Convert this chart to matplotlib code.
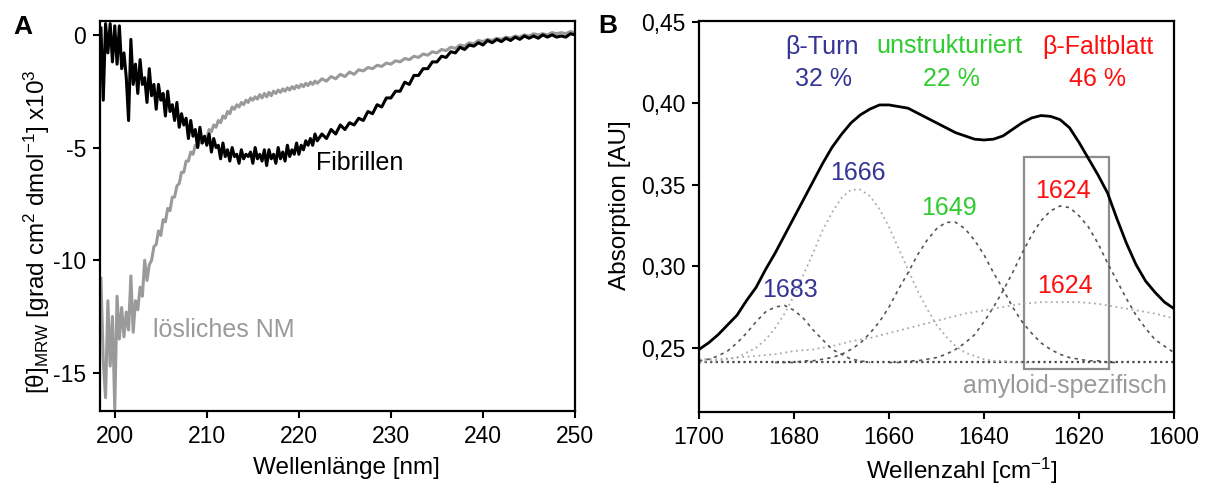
import matplotlib
matplotlib.use("Agg")
import matplotlib.pyplot as plt
import numpy as np

plt.rcParams['font.family'] = ['Liberation Sans', 'DejaVu Sans']
plt.rcParams['mathtext.fontset'] = 'custom'
plt.rcParams['mathtext.rm'] = 'Liberation Sans'
plt.rcParams['mathtext.it'] = 'Liberation Sans'

# ---- panel A: CD spectra ----
# part 1: 198.5 - 221.75 nm, every 0.25 nm
wl_a_start, wl_a_step = 198.5, 0.25
# part 2: 222 - 250 nm, every 0.5 nm
wl_b_start, wl_b_step = 222.0, 0.5

fib_a = [0.3, -2.9, 0.5, -0.8, 0.5, -1.2, 0.4, -1.3,
         0.4, -1.5, -0.8, -1.9, -3.8, -0.2, -2.2, -1.3,
         -2.6, -1.1, -2.2, -1.9, -3.0, -1.5, -2.7, -2.2,
         -3.3, -2.2, -2.9, -2.6, -3.6, -2.5, -3.4, -3.1,
         -3.8, -3.0, -4.1, -3.5, -4.0, -3.7, -4.6, -3.8,
         -4.5, -4.2, -5.0, -4.1, -4.8, -4.5, -4.9, -4.4,
         -5.2, -4.6, -5.0, -4.9, -5.5, -4.8, -5.4, -5.1,
         -5.6, -5.0, -5.4, -5.3, -5.7, -5.1, -5.5, -5.3,
         -5.4, -5.2, -5.7, -5.0, -5.5, -5.3, -5.6, -5.1,
         -5.8, -5.1, -5.5, -5.3, -5.7, -5.0, -5.5, -5.2,
         -5.6, -4.9, -5.4, -5.1, -5.3, -4.8, -5.3, -4.9,
         -5.1, -4.7, -4.9, -4.6, -4.9, -4.4]
fib_b = [-4.7, -4.4, -4.6, -4.2, -4.4, -4.0, -4.2, -3.9,
         -4.0, -3.7, -3.8, -3.4, -3.5, -3.1, -3.2, -2.8,
         -2.8, -2.5, -2.5, -2.1, -2.2, -1.8, -1.8, -1.5,
         -1.5, -1.2, -1.2, -0.95, -1.0, -0.75, -0.8, -0.55,
         -0.65, -0.45, -0.5, -0.35, -0.45, -0.25, -0.35, -0.2,
         -0.3, -0.15, -0.25, -0.1, -0.2, -0.05, -0.15, -0.05,
         -0.15, 0.0, -0.1, 0.0, -0.1, -0.05, -0.1, 0.05,
         0.0]

sol_a = [-10.8, -14.5, -16.1, -11.8, -14.7, -12.5, -16.6, -11.6,
         -13.5, -12.1, -13.4, -12.3, -13.1, -10.7, -13.2, -11.8,
         -12.2, -11.2, -11.6, -10.0, -10.9, -10.2, -10.0, -9.4,
         -9.3, -8.7, -8.9, -8.2, -8.3, -7.7, -7.8, -7.2,
         -7.2, -6.7, -6.6, -6.1, -6.1, -5.6, -5.6, -5.2,
         -5.3, -4.9, -5.0, -4.7, -4.8, -4.5, -4.6, -4.2,
         -4.3, -4.0, -4.1, -3.8, -3.9, -3.6, -3.7, -3.4,
         -3.5, -3.2, -3.3, -3.1, -3.2, -3.0, -3.1, -2.9,
         -3.0, -2.8, -2.9, -2.75, -2.85, -2.65, -2.8, -2.6,
         -2.75, -2.55, -2.7, -2.5, -2.6, -2.45, -2.55, -2.4,
         -2.5, -2.35, -2.45, -2.3, -2.4, -2.25, -2.35, -2.2,
         -2.3, -2.15, -2.25, -2.1, -2.2, -2.05]
sol_b = [-2.15, -1.95, -2.05, -1.85, -1.95, -1.75, -1.85, -1.65,
         -1.75, -1.55, -1.6, -1.45, -1.5, -1.35, -1.4, -1.25,
         -1.3, -1.15, -1.2, -1.05, -1.1, -0.95, -1.0, -0.85,
         -0.9, -0.75, -0.8, -0.65, -0.7, -0.55, -0.6, -0.45,
         -0.5, -0.35, -0.4, -0.25, -0.3, -0.2, -0.25, -0.15,
         -0.2, -0.1, -0.15, -0.05, -0.1, 0.0, -0.05, 0.05,
         0.0, 0.05, 0.0, 0.1, 0.05, 0.1, 0.05, 0.15,
         0.1]

# ---- panel B: FTIR amide I with fitted bands ----
total_start, total_step = 1700, -2
total_abs = [0.249, 0.253, 0.258, 0.264, 0.270, 0.279, 0.287, 0.298, 0.308, 0.319,
             0.330, 0.341, 0.352, 0.363, 0.373, 0.381, 0.388, 0.393, 0.3965, 0.399,
             0.399, 0.398, 0.397, 0.394, 0.391, 0.388, 0.385, 0.382, 0.380, 0.378,
             0.3775, 0.378, 0.380, 0.384, 0.388, 0.391, 0.3925, 0.392, 0.390, 0.385,
             0.376, 0.366, 0.356, 0.345, 0.329, 0.314, 0.301, 0.291, 0.284, 0.278,
             0.274]

band1683_start, band1683_step = 1700, -2
band1683 = [0.242, 0.243, 0.245, 0.248, 0.253, 0.259, 0.266, 0.272, 0.275, 0.276,
            0.273, 0.268, 0.261, 0.255, 0.249, 0.246, 0.243, 0.242, 0.241]
band1666_start, band1666_step = 1700, -2
band1666 = [0.241, 0.242, 0.242, 0.243, 0.244, 0.247, 0.250, 0.255, 0.262, 0.271,
            0.282, 0.295, 0.308, 0.322, 0.333, 0.342, 0.347, 0.347, 0.343, 0.335,
            0.324, 0.311, 0.298, 0.285, 0.274, 0.264, 0.257, 0.251, 0.247, 0.245,
            0.243, 0.242, 0.242, 0.241, 0.241, 0.241]
band1649_start, band1649_step = 1684, -2
band1649 = [0.241, 0.241, 0.241, 0.242, 0.242, 0.243, 0.244, 0.246, 0.249, 0.253,
            0.259, 0.266, 0.275, 0.286, 0.296, 0.307, 0.316, 0.323, 0.327, 0.327,
            0.323, 0.316, 0.307, 0.296, 0.286, 0.275, 0.266, 0.259, 0.253, 0.249,
            0.246, 0.244, 0.243, 0.242, 0.242, 0.241, 0.241]
band1624_start, band1624_step = 1660, -2
band1624 = [0.241, 0.241, 0.242, 0.242, 0.243, 0.244, 0.246, 0.249, 0.253, 0.258,
            0.266, 0.275, 0.285, 0.296, 0.308, 0.319, 0.328, 0.334, 0.337, 0.336,
            0.331, 0.324, 0.314, 0.302, 0.291, 0.280, 0.270, 0.262, 0.255, 0.251,
            0.247]
broad1624_start, broad1624_step = 1700, -4
broad1624 = [0.243, 0.243, 0.244, 0.245, 0.246, 0.248, 0.249, 0.251, 0.254, 0.256,
             0.259, 0.262, 0.265, 0.268, 0.271, 0.273, 0.275, 0.277, 0.278, 0.278,
             0.278, 0.277, 0.275, 0.273, 0.271, 0.268]
baseline_abs = 0.241

yticks_b = [0.25, 0.30, 0.35, 0.40, 0.45]
yticklabels_b = ['0,25', '0,30', '0,35', '0,40', '0,45']
xticks_b = [1700, 1680, 1660, 1640, 1620, 1600]
xticks_a = [200, 210, 220, 230, 240, 250]
yticks_a = [0, -5, -10, -15]
yticklabels_a = ['0', '-5', '-10', '-15']

blue = '#353596'
green = '#2ecc2e'
red = '#ff1010'


def grid(start, step, vals):
    return start + step * np.arange(len(vals))


fig = plt.figure(figsize=(12.17, 4.92), dpi=100)
axA = fig.add_axes([0.0822, 0.1652, 0.3903, 0.7928])
axB = fig.add_axes([0.5744, 0.1626, 0.3903, 0.7947])

for ax in (axA, axB):
    for s in ax.spines.values():
        s.set_linewidth(1.6)
    ax.tick_params(direction='out', length=5, width=1.5, labelsize=16.5, pad=5)

# A
wl_fib = np.concatenate([grid(wl_a_start, wl_a_step, fib_a), grid(wl_b_start, wl_b_step, fib_b)])
wl_sol = np.concatenate([grid(wl_a_start, wl_a_step, sol_a), grid(wl_b_start, wl_b_step, sol_b)])
axA.plot(wl_sol, sol_a + sol_b, color='#9a9a9a', lw=2.2)
axA.plot(wl_fib, fib_a + fib_b, color='black', lw=2.2)
axA.set_xlim(198.4, 250)
axA.set_ylim(-16.68, 0.63)
axA.set_xticks(xticks_a)
axA.set_yticks(yticks_a)
axA.set_yticklabels(yticklabels_a)
axA.text(221.9, -6.0, 'Fibrillen', fontsize=18, color='black')
axA.text(204.1, -13.42, 'lösliches NM', fontsize=18, color='#9a9a9a')

# B
axB.plot([1700, 1600], [baseline_abs, baseline_abs], color='#444444', lw=1.6, ls=(0, (1, 1.5)))
axB.plot(grid(broad1624_start, broad1624_step, broad1624), broad1624, color='#aaaaaa', lw=1.3, ls=(0, (1, 2)))
axB.plot(grid(band1666_start, band1666_step, band1666), band1666, color='#aaaaaa', lw=1.3, ls=(0, (1, 2)))
axB.plot(grid(band1683_start, band1683_step, band1683), band1683, color='#555555', lw=1.2, ls=(0, (2, 2.5)))
axB.plot(grid(band1649_start, band1649_step, band1649), band1649, color='#555555', lw=1.2, ls=(0, (2, 2.5)))
axB.plot(grid(band1624_start, band1624_step, band1624), band1624, color='#555555', lw=1.2, ls=(0, (2, 2.5)))
axB.plot(grid(total_start, total_step, total_abs), total_abs, color='black', lw=2.0)
axB.add_patch(plt.Rectangle((1613.7, 0.2369), 17.8, 0.130, fill=False, edgecolor='#8c8c8c', lw=1.6))
axB.set_xlim(1700, 1600)
axB.set_ylim(0.2106, 0.4505)
axB.set_xticks(xticks_b)
axB.set_yticks(yticks_b)
axB.set_yticklabels(yticklabels_b)

kw = dict(fontsize=18, ha='center', va='baseline')
axB.text(1674.2, 0.430, 'β-Turn', color=blue, **kw)
axB.text(1673.8, 0.4105, '32 %', color=blue, **kw)
axB.text(1647.3, 0.431, 'unstrukturiert', color=green, **kw)
axB.text(1646.8, 0.4105, '22 %', color=green, **kw)
axB.text(1616.0, 0.430, 'β-Faltblatt', color=red, **kw)
axB.text(1616.1, 0.4105, '46 %', color=red, **kw)
axB.text(1666.5, 0.3527, '1666', color=blue, **kw)
axB.text(1680.9, 0.2812, '1683', color=blue, **kw)
axB.text(1647.3, 0.3313, '1649', color=green, **kw)
axB.text(1623.3, 0.342, '1624', color=red, **kw)
axB.text(1623.0, 0.2837, '1624', color=red, **kw)
axB.text(1601.5, 0.2265, 'amyloid-spezifisch', fontsize=18, color='#999999', ha='right', va='center')

fig.text(0.0304, 0.53, '[θ]$_{\\mathrm{MRW}}$ [grad cm$^2$ dmol$^{-1}$] x10$^3$',
         rotation=90, ha='center', va='center', fontsize=17.5)
fig.text(0.285, 0.049, 'Wellenlänge [nm]', ha='center', va='center', fontsize=17.5)
fig.text(0.5095, 0.583, 'Absorption [AU]', rotation=90, ha='center', va='center', fontsize=17.5)
fig.text(0.79, 0.042, 'Wellenzahl [cm$^{-1}$]', ha='center', va='center', fontsize=17.5)
fig.text(0.019, 0.945, 'A', fontsize=19, fontweight='bold', ha='center', va='center')
fig.text(0.4995, 0.947, 'B', fontsize=19, fontweight='bold', ha='center', va='center')

fig.savefig('out.png', dpi=100)
